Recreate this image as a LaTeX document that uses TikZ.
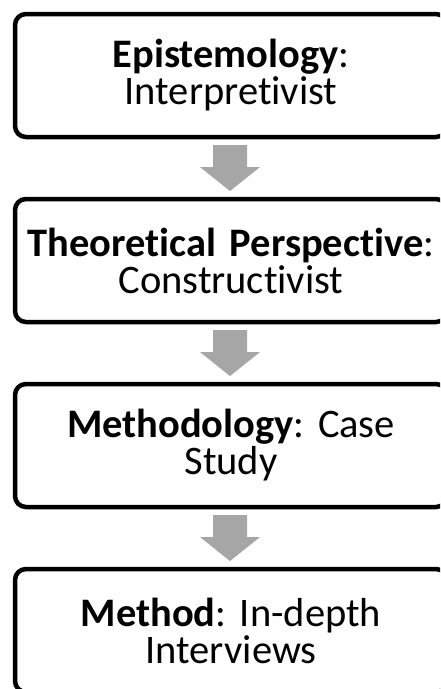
\documentclass[tikz,border=0pt]{standalone}
\usepackage{fontspec}
\setmainfont{Carlito}[RawFeature={-liga;-dlig}]
\usepackage{tikz}
\usetikzlibrary{positioning,calc}
\definecolor{arrowgray}{HTML}{A6A6A6}
\frenchspacing

\begin{document}
\begin{tikzpicture}[
    node distance=62pt, % gap between boxes
    stage/.style={rectangle, rounded corners=11pt, draw, line width=4.5pt, outer sep=0pt, text width=420pt, align=center, minimum width=432pt, minimum height=123pt, font=\fontsize{40.5}{37}\selectfont},
    flow/.style={fill=arrowgray}
]
    \useasboundingbox (0,0) rectangle (440pt,-689pt);
    \clip (0,0) rectangle (440pt,-689pt);

    % Nodes
    \node[stage, anchor=north west] (epi) at (15pt,-14pt) {\textbf{Epistemology}:\\ Interpretivist};
    \node[stage, below=of epi] (theo) {\textbf{Theoretical Perspective}:\\ Constructivist};
    \node[stage, below=of theo] (meth) {\textbf{Methodology}: Case\\ Study};
    \node[stage, below=of meth] (method) {\textbf{Method}: In-depth\\ Interviews};

    % Connections
    \foreach \from/\to in {epi/theo, theo/meth, meth/method}
        \fill[flow] ($(\from.south)+(-18pt,-8pt)$) -- ++(34pt,0) -- ++(0,-22pt) -- ++(13pt,0)
            -- ($(\to.north)+(-1pt,8pt)$) -- ++(-30pt,24pt) -- ++(13pt,0) -- cycle;
\end{tikzpicture}
\end{document}
